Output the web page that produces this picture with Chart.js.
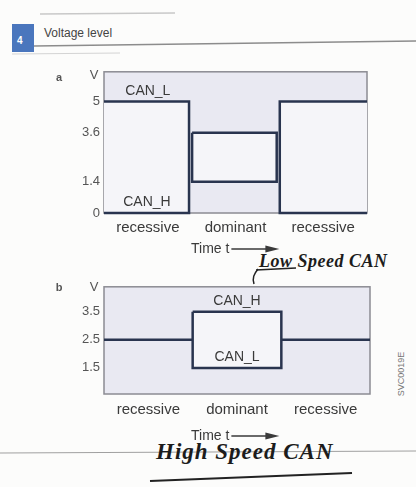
<!DOCTYPE html>
<html><head><meta charset="utf-8">
<script src="https://cdn.jsdelivr.net/npm/chart.js@4"></script>
<style>
body{margin:0;width:416px;height:487px;background:#fcfcfb;position:relative;overflow:hidden;font-family:"Liberation Sans",Arial,sans-serif;color:#3a3a3a}
.abs{position:absolute}
.hand{font-family:"Liberation Serif",serif;font-style:italic;font-weight:bold;color:#1c1c1c;white-space:nowrap}
</style></head><body>

<div class="abs" style="left:12px;top:24px;width:22px;height:28px;background:#4a76bd;"></div>
<div class="abs" style="left:17px;top:35px;color:#fff;font:bold 10px 'Liberation Sans'">4</div>
<div class="abs" style="left:44px;top:26px;font:12px 'Liberation Sans';color:#444">Voltage level</div>

<svg class="abs" style="left:0;top:0" width="416" height="487">
  <line x1="40" y1="14" x2="175" y2="13" stroke="#c8c8c8" stroke-width="1.5"/>
  <line x1="34" y1="46" x2="416" y2="41" stroke="#8c8c8c" stroke-width="1.5"/>
  <line x1="12" y1="54" x2="120" y2="53" stroke="#d4d4d4" stroke-width="1"/>
  <line x1="0" y1="453" x2="416" y2="451" stroke="#a0a0a0" stroke-width="1.2"/>
  <path d="M258 269 C 254 274, 252 278, 254 284" stroke="#222" stroke-width="1.5" fill="none"/>
  <line x1="256" y1="270" x2="296" y2="268" stroke="#222" stroke-width="1.5"/>
  <path d="M150 481 C 220 478, 290 476, 352 473" stroke="#222" stroke-width="2" fill="none"/>
</svg>

<div class="abs hand" style="left:259px;top:251px;font-size:18px;letter-spacing:0.5px">Low Speed CAN</div>
<div class="abs hand" style="left:156px;top:439px;font-size:23px;letter-spacing:1px">High Speed CAN</div>
<div class="abs" style="left:375px;top:368px;width:54px;height:12px;transform:rotate(-90deg);font:9px 'Liberation Sans';color:#777;text-align:center">SVC0019E</div>

<div class="abs" style="left:40px;top:60px;width:335px;height:200px"><canvas id="ca"></canvas></div>
<div class="abs" style="left:40px;top:275px;width:340px;height:175px"><canvas id="cb"></canvas></div>

<script>
const segments = ['recessive', 'dominant', 'recessive'];
const canL_a = [5, 3.6, 5];
const canH_a = [0, 1.4, 0];
const ticks_a = [0, 1.4, 3.6, 5];
const canH_b = [2.5, 3.5, 2.5];
const canL_b = [2.5, 1.5, 2.5];
const ticks_b = [1.5, 2.5, 3.5];

const LINE = '#29344f';
const TXT = '#3a3a3a';

function boxDatasets(top, bot, gapL, gapR) {
  const n = segments.length;
  return segments.map((s, i) => {
    const x0 = i === 0 ? 0 : i + gapL;
    const x1 = i === n - 1 ? n : i + 1 - gapR;
    let pts;
    if (i === 0) pts = [[x0, top[i]], [x1, top[i]], [x1, bot[i]], [x0, bot[i]]];
    else if (i === n - 1) pts = [[x1, top[i]], [x0, top[i]], [x0, bot[i]], [x1, bot[i]]];
    else pts = [[x0, top[i]], [x1, top[i]], [x1, bot[i]], [x0, bot[i]], [x0, top[i]]];
    return {
      label: s,
      data: pts.map(([x, y]) => ({x, y})),
      showLine: true,
      borderColor: LINE,
      borderWidth: 2.5,
      pointRadius: 0,
      tension: 0,
      clip: false,
      fill: 'shape',
      backgroundColor: '#f5f5f9'
    };
  });
}

const deco = {
  id: 'deco',
  beforeDatasetsDraw(chart, args, o) {
    const a = chart.chartArea, ctx = chart.ctx;
    ctx.save();
    ctx.fillStyle = '#e9e9f2';
    ctx.fillRect(a.left, a.top, a.right - a.left, a.bottom - a.top);
    ctx.strokeStyle = '#8b8b93';
    ctx.lineWidth = 1.5;
    ctx.strokeRect(a.left, a.top, a.right - a.left, a.bottom - a.top);
    ctx.restore();
  },
  afterDraw(chart, args, o) {
    const a = chart.chartArea, ctx = chart.ctx;
    const xs = chart.scales.x, ys = chart.scales.y;
    ctx.save();
    ctx.fillStyle = TXT;
    ctx.textAlign = 'center';
    ctx.textBaseline = 'middle';
    ctx.font = '14px "Liberation Sans"';
    (o.labels || []).forEach(l => ctx.fillText(l.text, xs.getPixelForValue(l.x), ys.getPixelForValue(l.y)));
    ctx.font = '13px "Liberation Sans"';
    ctx.fillStyle = '#555';
    ctx.fillText('V', a.left - 10, a.top + o.vDy);
    ctx.font = 'bold 11px "Liberation Sans"';
    ctx.fillText(o.letter, a.left - 45, a.top + o.letterDy);
    // Time t arrow
    ctx.fillStyle = TXT;
    ctx.font = '14px "Liberation Sans"';
    ctx.textAlign = 'left';
    const ty = a.bottom + o.timeDy;
    const tx = a.left + 87;
    ctx.fillText('Time t', tx, ty);
    const w = ctx.measureText('Time t').width;
    ctx.strokeStyle = TXT;
    ctx.lineWidth = 1.3;
    ctx.beginPath();
    ctx.moveTo(tx + w + 2, ty);
    ctx.lineTo(tx + w + 40, ty);
    ctx.stroke();
    ctx.beginPath();
    ctx.moveTo(tx + w + 50, ty);
    ctx.lineTo(tx + w + 36, ty - 3.5);
    ctx.lineTo(tx + w + 36, ty + 3.5);
    ctx.closePath();
    ctx.fill();
    ctx.restore();
  }
};

function makeChart(id, datasets, yMin, yMax, yTicks, xHeight, xPad, padRight, opts) {
  return new Chart(document.getElementById(id), {
    type: 'scatter',
    data: {datasets},
    options: {
      animation: false,
      responsive: true,
      maintainAspectRatio: false,
      layout: {padding: {top: 10, right: padRight, left: 0, bottom: 0}},
      plugins: {legend: {display: false}, tooltip: {enabled: false}, deco: opts},
      scales: {
        x: {
          type: 'linear', min: 0, max: segments.length,
          grid: {display: false, drawTicks: false},
          border: {display: false},
          afterBuildTicks: s => { s.ticks = segments.map((c, i) => ({value: i + 0.5})); },
          afterFit: s => { s.height = xHeight; },
          ticks: {
            autoSkip: false, maxRotation: 0, padding: xPad,
            color: TXT, font: {family: 'Liberation Sans', size: 15},
            callback: (v) => segments[Math.floor(v)]
          }
        },
        y: {
          min: yMin, max: yMax,
          grid: {display: false, drawTicks: false},
          border: {display: false},
          afterBuildTicks: s => { s.ticks = yTicks.map(v => ({value: v})); },
          afterFit: s => { s.width = 64; },
          ticks: {
            padding: 4, color: '#555', font: {family: 'Liberation Sans', size: 13},
            callback: v => String(v)
          }
        }
      }
    },
    plugins: [deco]
  });
}

makeChart('ca', boxDatasets(canL_a, canH_a, 0.005, 0.03), 0, 6.33, ticks_a, 47, 6, 8, {
  letter: 'a', letterDy: 6, vDy: 4, timeDy: 36,
  labels: [{text: 'CAN_L', x: 0.5, y: 5.45}, {text: 'CAN_H', x: 0.49, y: 0.5}]
});
makeChart('cb', boxDatasets(canH_b, canL_b, 0, 0), 0.57, 4.39, ticks_b, 56, 7, 10, {
  letter: 'b', letterDy: 1, vDy: 1, timeDy: 42,
  labels: [{text: 'CAN_H', x: 1.5, y: 3.87}, {text: 'CAN_L', x: 1.5, y: 1.87}]
});
</script>
</body></html>
